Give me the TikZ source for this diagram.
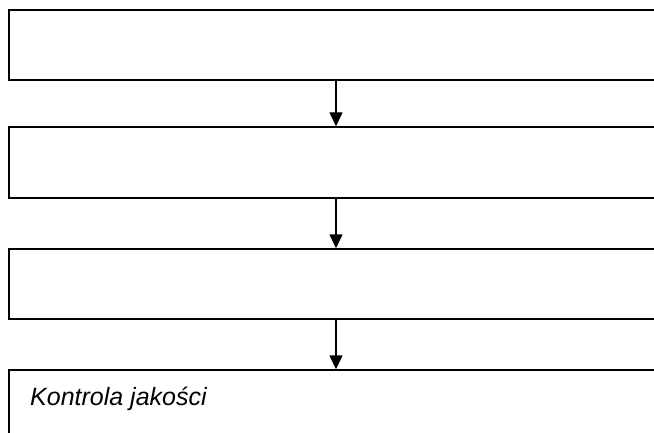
\documentclass[tikz,border=0pt]{standalone}
\usepackage{fontspec}
\setmainfont{Liberation Sans}
\usetikzlibrary{arrows.meta}
\begin{document}
\begin{tikzpicture}[x=1pt,y=1pt,
  flowbox/.style={draw=black,line width=1.4pt,rectangle,minimum width=691pt,inner sep=0pt},
  flowarrow/.style={draw=black,line width=1.4pt,-{Triangle[width=13pt,length=14pt]}},
  boxtext/.style={font=\fontsize{25}{30}\selectfont\itshape,anchor=base west,inner sep=0pt}]
\useasboundingbox (0,0) rectangle (654,432);
\clip (0,0) rectangle (654,432);
\fill[white] (0,0) rectangle (654,432);
\node[flowbox,minimum height=70pt] (b1) at (354.5,387) {};
\node[flowbox,minimum height=71pt] (b2) at (354.5,269.5) {};
\node[flowbox,minimum height=70pt] (b3) at (354.5,148) {};
\node[flowbox,minimum height=110pt] (b4) at (354.5,7) {};
\coordinate (ax) at (336,0);
\draw[flowarrow] (b1.south -| ax) -- (b2.north -| ax);
\draw[flowarrow] (b2.south -| ax) -- (b3.north -| ax);
\draw[flowarrow] (b3.south -| ax) -- (b4.north -| ax);
\node[boxtext] (t4) at (30,27) {Kontrola jakości};
\end{tikzpicture}
\end{document}
